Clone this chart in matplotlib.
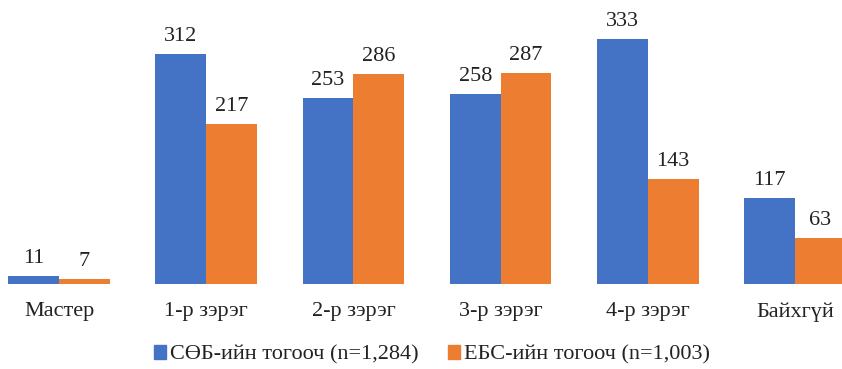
import matplotlib
matplotlib.use("Agg")
import matplotlib.pyplot as plt
import numpy as np
from matplotlib.patches import Patch

categories = ["Мастер", "1-р зэрэг", "2-р зэрэг", "3-р зэрэг", "4-р зэрэг", "Байхгүй"]
series_names = ["СӨБ-ийн тогооч (n=1,284)", "ЕБС-ийн тогооч (n=1,003)"]
sob_values = [11, 312, 253, 258, 333, 117]
ebs_values = [7, 217, 286, 287, 143, 63]
colors = ["#4472C4", "#ED7D31"]

plt.rcParams['font.family'] = ['Liberation Serif', 'DejaVu Serif']

fig = plt.figure(figsize=(8.42, 3.69), dpi=100)
ax = fig.add_axes([0, 85/369, 1, 284/369])

x = np.arange(len(categories))
w = 0.345
b1 = ax.bar(x - w/2, sob_values, w, color=colors[0])
b2 = ax.bar(x + w/2, ebs_values, w, color=colors[1])

for bars, vals in ((b1, sob_values), (b2, ebs_values)):
    for rect, v in zip(bars, vals):
        ax.annotate(str(v), (rect.get_x() + rect.get_width()/2, rect.get_height()),
                    xytext=(0, 9.4), textcoords="offset points",
                    ha="center", va="baseline", fontsize=16, color="#222222")

ax.set_xlim(-0.4008, 5.319)
ax.set_ylim(0, 386)
ax.set_xticks(x)
ax.set_xticklabels(categories, fontsize=16, color="#222222")
ax.tick_params(axis='x', length=0, pad=13)
ax.set_yticks([])
for s in ax.spines.values():
    s.set_visible(False)

handles = [Patch(color=c) for c in colors]
fig.legend(handles, series_names, loc="center", bbox_to_anchor=(0.513, 14/369),
           ncol=2, frameon=False, fontsize=16, handlelength=0.55, handleheight=0.55,
           handletextpad=0.18, columnspacing=1.3, labelcolor="#222222")

fig.savefig("out.png", dpi=100)
